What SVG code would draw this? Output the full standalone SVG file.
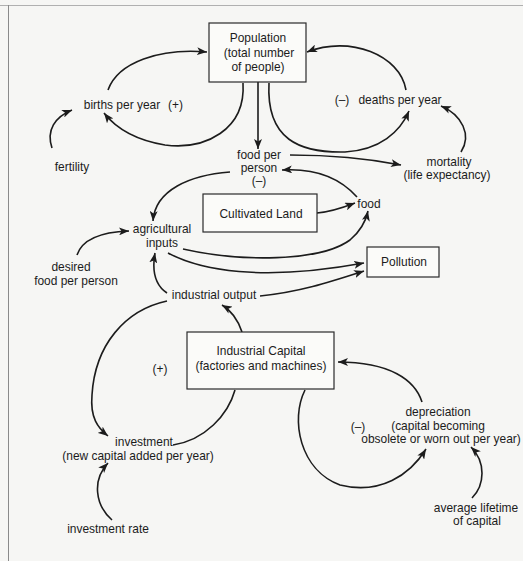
<svg xmlns="http://www.w3.org/2000/svg" width="523" height="561" viewBox="0 0 523 561">
<defs>
<marker id="ah" markerUnits="userSpaceOnUse" markerWidth="11" markerHeight="8" refX="10" refY="4" orient="auto">
<path d="M0,0 L10,4 L0,8 L2.5,4 z" fill="#1c1c1c"/>
</marker>
<style>
text{font-family:"Liberation Sans",Arial,sans-serif;font-size:13px;fill:#1c1c1c;text-anchor:middle}
.l{text-anchor:start}
.box{fill:#fbfbf9;stroke:#2a2a2a;stroke-width:1.2}
.c{fill:none;stroke:#1c1c1c;stroke-width:1.6}
.a{marker-end:url(#ah)}
</style>
</defs>
<rect width="523" height="561" fill="#f6f6f4"/>
<line x1="0" y1="5.5" x2="523" y2="5.5" stroke="#b0b0b0" stroke-width="1"/>
<line x1="8.5" y1="5" x2="8.5" y2="561" stroke="#8a8a8a" stroke-width="1"/>

<g id="connectors">
<path class="c a" d="M108,90 C118,62 160,48 207,52"/>
<path class="c a" d="M243,83 C246,130 205,150 165,145 C135,140 115,127 104,113"/>
<path class="c a" d="M52,148 C46,130 55,117 72,110"/>
<path class="c a" d="M258,82 L258,149"/>
<path class="c a" d="M269,83 C266,140 300,153 345,152 C380,150 400,132 409,111"/>
<path class="c a" d="M406,90 C400,55 350,35 307,52"/>
<path class="c a" d="M461,152 C472,135 462,115 441,106"/>
<path class="c a" d="M290,155 Q350,155 401,165"/>
<path class="c a" d="M357,197 C340,178 315,168 282,170"/>
<path class="c a" d="M230,172 C190,175 155,190 153,221"/>
<path class="c a" d="M77,255 C82,240 100,232 129,231"/>
<path class="c a" d="M317,213 C330,212 342,208 355,203"/>
<path class="c a" d="M183,249 C240,262 320,262 350,240 C362,230 366,220 368,211"/>
<path class="c a" d="M168,253 C200,270 260,282 364,263"/>
<path class="c a" d="M260,296 C300,292 330,282 364,271"/>
<path class="c a" d="M167,293 C155,285 152,270 155,253"/>
<path class="c a" d="M242,332 C238,320 232,311 222,305"/>
<path class="c a" d="M167,301 C125,310 95,345 92,395 C90,418 98,428 108,436"/>
<path class="c" d="M173,445 C205,440 228,415 235,390"/>
<path class="c a" d="M422,402 C415,380 390,362 338,362"/>
<path class="c a" d="M305,390 C290,420 300,470 340,485 C380,495 410,475 426,449"/>
<path class="c a" d="M472,498 C485,485 486,462 471,447"/>
<path class="c a" d="M112,520 C95,505 92,480 108,463"/>
</g>

<g id="population">
<rect class="box" x="209" y="23" width="97" height="59"/>
<text transform="translate(258,42) scale(0.92,1)">Population</text>
<text transform="translate(259,57) scale(0.92,1)">(total number</text>
<text transform="translate(258,71) scale(0.92,1)">of people)</text>
</g>
<g id="births">
<text transform="translate(122,109) scale(0.92,1)">births per year</text>
<text class="l" transform="translate(168,109) scale(0.92,1)">(+)</text>
</g>
<g id="fertility"><text transform="translate(72,171) scale(0.92,1)">fertility</text></g>
<g id="food-per-person">
<text transform="translate(259,159) scale(0.92,1)">food per</text>
<text transform="translate(259,172) scale(0.92,1)">person</text>
<text transform="translate(259,185) scale(0.92,1)">(–)</text>
</g>
<g id="deaths">
<text transform="translate(342,104) scale(0.92,1)">(–)</text>
<text transform="translate(400,104) scale(0.92,1)">deaths per year</text>
</g>
<g id="mortality">
<text transform="translate(449,166) scale(0.92,1)">mortality</text>
<text transform="translate(447,179) scale(0.92,1)">(life expectancy)</text>
</g>
<g id="cultivated-land">
<rect class="box" x="203" y="194" width="114" height="38"/>
<text transform="translate(261,218) scale(0.92,1)">Cultivated Land</text>
</g>
<g id="food"><text transform="translate(369,208) scale(0.92,1)">food</text></g>
<g id="agricultural-inputs">
<text transform="translate(162,233) scale(0.92,1)">agricultural</text>
<text transform="translate(162,247) scale(0.92,1)">inputs</text>
</g>
<g id="desired-food">
<text transform="translate(71,271) scale(0.92,1)">desired</text>
<text transform="translate(76,285) scale(0.92,1)">food per person</text>
</g>
<g id="industrial-output"><text transform="translate(214,299) scale(0.92,1)">industrial output</text></g>
<g id="pollution">
<rect class="box" x="367" y="247" width="72" height="30"/>
<text transform="translate(404,266) scale(0.92,1)">Pollution</text>
</g>
<g id="industrial-capital">
<rect class="box" x="187" y="332" width="147" height="57"/>
<text transform="translate(261,355) scale(0.92,1)">Industrial Capital</text>
<text transform="translate(261,370) scale(0.92,1)">(factories and machines)</text>
</g>
<g id="plus-loop"><text transform="translate(160,373) scale(0.92,1)">(+)</text></g>
<g id="investment">
<text transform="translate(144,446) scale(0.92,1)">investment</text>
<text transform="translate(138,460) scale(0.92,1)">(new capital added per year)</text>
</g>
<g id="investment-rate"><text transform="translate(108,533) scale(0.92,1)">investment rate</text></g>
<g id="minus-loop"><text transform="translate(358,431) scale(0.92,1)">(–)</text></g>
<g id="depreciation">
<text transform="translate(438,416) scale(0.92,1)">depreciation</text>
<text transform="translate(438,430) scale(0.92,1)">(capital becoming</text>
<text transform="translate(441,443) scale(0.92,1)">obsolete or worn out per year)</text>
</g>
<g id="average-lifetime">
<text transform="translate(476,512) scale(0.92,1)">average lifetime</text>
<text transform="translate(477,525) scale(0.92,1)">of capital</text>
</g>
</svg>
